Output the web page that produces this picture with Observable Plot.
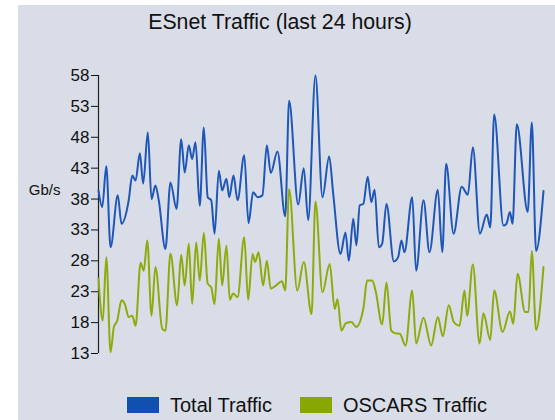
<!DOCTYPE html>
<html><head><meta charset="utf-8">
<script src="https://cdn.jsdelivr.net/npm/d3@7"></script>
<script src="https://cdn.jsdelivr.net/npm/@observablehq/plot@0.6"></script>
<style>
html,body{margin:0;padding:0;background:#fff;}
#wrap{position:absolute;left:18px;top:5px;width:537px;height:415px;background:#d9dde7;font-family:"Liberation Sans",Arial,Helvetica,sans-serif;overflow:hidden;}
#title{position:absolute;top:7px;left:262px;transform:translateX(-50%);white-space:nowrap;font-size:21.3px;line-height:21px;color:#111;}
#chart{position:absolute;left:0;top:0;}
#legend{position:absolute;top:392px;left:109px;display:flex;align-items:center;font-size:20px;line-height:16px;color:#111;white-space:nowrap;}
.sw{width:32px;height:16px;margin-right:11px;}
.item{display:flex;align-items:center;margin-right:28px;}
</style></head>
<body>
<div id="wrap">
  <div id="title">ESnet Traffic (last 24 hours)</div>
  <div id="chart"></div>
  <div id="legend"></div>
</div>
<script>
const title = "ESnet Traffic (last 24 hours)";
const yTicks = [13, 18, 23, 28, 33, 38, 43, 48, 53, 58];
const unitLabel = "Gb/s";
const seriesNames = ["Total Traffic", "OSCARS Traffic"];
const seriesColors = ["#1f57b8", "#8dab0c"];
const swatchColors = ["#1150ad", "#87a800"];

// hours since start (0..24) and Gb/s
const totalHours = [0.00,0.20,0.42,0.65,1.04,1.24,1.63,1.82,2.00,2.23,2.41,2.66,2.86,3.07,3.25,3.61,3.88,4.21,4.46,4.65,4.87,5.05,5.23,5.46,5.68,5.89,6.08,6.26,6.49,6.67,6.90,7.05,7.28,7.50,7.86,8.09,8.34,8.58,8.84,9.08,9.29,9.65,10.07,10.28,10.77,11.07,11.31,11.70,12.08,12.44,12.66,13.05,13.32,13.50,13.74,13.91,14.09,14.28,14.52,14.71,14.89,15.12,15.30,15.53,15.93,16.16,16.34,16.50,16.92,17.13,17.53,17.85,18.30,18.54,18.75,19.15,19.59,19.92,20.19,20.57,20.94,21.13,21.34,21.84,22.00,22.19,22.33,22.56,23.15,23.37,23.60,24.00];
const totalValues = [39.4,36.7,43.3,30.2,38.6,34.0,37.8,41.8,41.0,45.4,40.5,48.8,38.0,40.2,37.8,29.9,40.7,36.4,47.7,42.3,46.7,44.5,47.2,36.9,49.6,38.3,37.8,32.4,42.6,39.4,41.3,38.3,41.8,37.8,45.1,34.1,39.1,38.3,38.6,46.7,42.2,45.7,35.2,53.9,37.1,43.0,34.6,58.0,38.3,44.9,38.8,29.1,32.6,28.0,34.8,30.5,37.0,37.2,41.6,37.5,39.5,30.2,30.8,37.2,27.9,28.6,31.3,29.4,38.3,26.4,37.8,29.4,39.5,29.4,43.7,32.4,40.0,38.7,46.4,32.4,35.5,33.4,51.7,33.7,34.0,35.9,34.0,50.1,35.9,50.4,29.6,39.3];

const oscarsHours = [0.00,0.23,0.42,0.65,0.83,1.01,1.24,1.42,1.63,1.82,2.00,2.27,2.44,2.63,2.86,3.07,3.44,3.61,3.88,4.24,4.46,4.65,4.87,5.05,5.27,5.46,5.68,5.89,6.08,6.26,6.49,6.67,6.90,7.08,7.26,7.50,7.86,8.07,8.31,8.45,8.63,8.88,9.08,9.29,9.56,9.89,10.07,10.28,10.72,11.07,11.49,11.70,12.08,12.47,12.74,12.89,13.10,13.34,13.64,13.90,14.28,14.49,14.76,14.94,15.30,15.53,15.79,15.98,16.25,16.56,16.92,17.13,17.53,17.94,18.30,18.57,18.89,19.16,19.47,19.74,19.88,20.19,20.55,20.76,21.13,21.34,21.79,22.19,22.37,22.60,23.01,23.19,23.37,23.60,24.00];
const oscarsValues = [25.1,18.3,28.6,13.2,17.3,18.3,21.6,21.0,18.9,19.1,17.5,27.7,26.4,31.3,19.1,27.0,17.0,16.7,29.2,20.8,29.0,24.0,30.8,21.0,31.0,24.8,32.5,24.3,23.7,21.0,31.6,24.0,30.5,21.7,22.7,22.1,31.8,21.7,29.1,27.8,29.4,24.0,28.0,23.5,24.0,24.7,23.2,39.6,23.2,27.8,19.4,37.6,22.9,27.5,20.2,21.8,16.7,17.9,18.1,17.3,20.2,24.8,24.8,23.2,17.7,24.5,16.7,16.3,16.2,14.3,23.2,14.6,18.8,14.3,18.9,15.8,20.8,18.1,17.5,23.2,19.1,27.4,14.6,19.5,15.2,23.2,16.5,19.8,17.8,25.9,19.7,19.7,29.6,16.8,27.0];

const totalData = totalHours.map((h, i) => ({h, v: totalValues[i]}));
const oscarsData = oscarsHours.map((h, i) => ({h, v: oscarsValues[i]}));

document.getElementById("title").textContent = title;

const chart = Plot.plot({
  width: 537,
  height: 370,
  marginLeft: 80,
  marginRight: 12,
  marginTop: 70,
  marginBottom: 22,
  style: {background: "transparent", fontFamily: '"Liberation Sans", Arial, Helvetica, sans-serif', fontSize: "17px", color: "#111"},
  x: {domain: [0, 24], axis: null},
  y: {domain: [13, 58], ticks: yTicks, tickSize: 7, tickPadding: 2, label: null},
  marks: [
    Plot.ruleX([0], {stroke: "#222", strokeWidth: 1.2}),
    Plot.line(totalData, {x: "h", y: "v", stroke: seriesColors[0], strokeWidth: 2, curve: "monotone-x"}),
    Plot.line(oscarsData, {x: "h", y: "v", stroke: seriesColors[1], strokeWidth: 2, curve: "monotone-x"}),
    Plot.text([unitLabel], {text: d => d, frameAnchor: "left", dx: -38, dy: -24, textAnchor: "end", fontSize: 15, fill: "#111"})
  ]
});
document.getElementById("chart").appendChild(chart);

const legend = document.getElementById("legend");
seriesNames.forEach((name, i) => {
  const item = document.createElement("div");
  item.className = "item";
  const sw = document.createElement("div");
  sw.className = "sw";
  sw.style.background = swatchColors[i];
  const label = document.createElement("span");
  label.textContent = name;
  item.appendChild(sw);
  item.appendChild(label);
  legend.appendChild(item);
});
</script>
</body></html>
